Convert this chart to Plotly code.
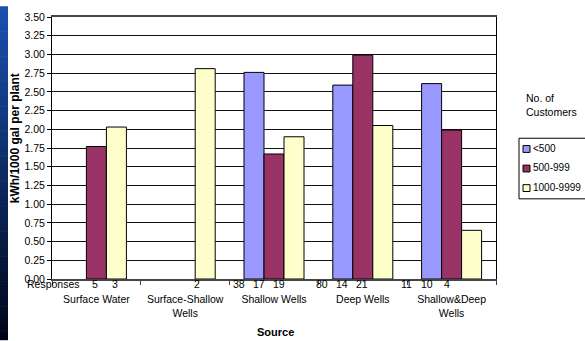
import plotly.graph_objects as go

# Categories and series
sources = ["Surface Water", "Surface-Shallow<br>Wells", "Shallow Wells",
           "Deep Wells", "Shallow&Deep<br>Wells"]
series_names = ["<500", "500-999", "1000-9999"]
series_colors = ["#9999FF", "#993366", "#FFFFCC"]

# kWh per 1000 gal per plant
kwh_lt500 = [None, None, 2.76, 2.59, 2.61]
kwh_500_999 = [1.77, None, 1.67, 2.99, 1.99]
kwh_1000_9999 = [2.03, 2.81, 1.90, 2.05, 0.65]

# survey responses behind each bar
resp_lt500 = [None, None, 38, 80, 11]
resp_500_999 = [5, None, 17, 14, 10]
resp_1000_9999 = [3, 2, 19, 21, 4]

y_ticks = [i * 0.25 for i in range(15)]

W, H = 585, 341
L, R, T, B = 52, 89, 11, 62
PW, PH = W - L - R, H - T - B
FONT = "Liberation Sans, Arial, sans-serif"
FS = 10.5


def px_x(p):
    return (p - L) / PW


def px_y(p):
    return (H - B - p) / PH


values = [kwh_lt500, kwh_500_999, kwh_1000_9999]
responses = [resp_lt500, resp_500_999, resp_1000_9999]

fig = go.Figure()
for name, vals, col in zip(series_names, values, series_colors):
    fig.add_trace(go.Bar(
        x=sources, y=vals, name=name,
        marker=dict(color=col, line=dict(color="black", width=1)),
        showlegend=False,
    ))

annotations = []
shapes = []

# response counts under the bars
slot = 20 / (PW / len(sources))
nudge = [-1, -8, -15, -21, -25]
for si, resp in enumerate(responses):
    for gi, n in enumerate(resp):
        if n is None:
            continue
        annotations.append(dict(
            x=gi + (si - 1) * slot, y=0, xref="x", yref="y",
            text=str(n), showarrow=False, xanchor="center", yanchor="middle",
            yshift=-5, xshift=nudge[gi],
            font=dict(family=FONT, size=FS, color="black")))
annotations.append(dict(
    x=px_x(82), y=0, xref="paper", yref="y", text="Responses",
    showarrow=False, xanchor="right", yanchor="middle", yshift=-5,
    font=dict(family=FONT, size=FS, color="black")))

# axis titles
annotations.append(dict(
    x=px_x(15), y=px_y(135), xref="paper", yref="paper",
    text="<b>kWh/1000 gal per plant</b>", textangle=-90, showarrow=False,
    xanchor="center", yanchor="middle",
    font=dict(family=FONT, size=12, color="black")))
annotations.append(dict(
    x=px_x(275), y=px_y(333), xref="paper", yref="paper",
    text="<b>Source</b>", showarrow=False, xanchor="center", yanchor="middle",
    font=dict(family=FONT, size=11, color="black")))

# chart title, mostly above the visible area
annotations.append(dict(
    x=px_x(303), y=px_y(-1), xref="paper", yref="paper",
    text="<b>Water Plants</b>", showarrow=False, xanchor="center",
    yanchor="bottom", font=dict(family=FONT, size=12, color="#aaaaaa")))

# legend: title, frame, swatches and labels
annotations.append(dict(
    x=px_x(524), y=px_y(101), xref="paper", yref="paper",
    text="No. of<br>Customers", showarrow=False, xanchor="left",
    yanchor="middle", align="left",
    font=dict(family=FONT, size=FS, color="black")))
shapes.append(dict(
    type="rect", xref="paper", yref="paper",
    x0=px_x(519), x1=px_x(600), y0=px_y(197), y1=px_y(135),
    line=dict(color="black", width=1), fillcolor="white"))
for i, (name, col) in enumerate(zip(series_names, series_colors)):
    cy = 146 + 20 * i
    shapes.append(dict(
        type="rect", xref="paper", yref="paper",
        x0=px_x(523), x1=px_x(530), y0=px_y(cy + 3.5), y1=px_y(cy - 3.5),
        line=dict(color="black", width=1), fillcolor=col))
    annotations.append(dict(
        x=px_x(531), y=px_y(cy - 1), xref="paper", yref="paper", text=name,
        showarrow=False, xanchor="left", yanchor="middle",
        font=dict(family=FONT, size=10, color="black")))

# dark blue slide edge on the left
bands = 40
top_c = (26, 80, 176)
bot_c = (0, 6, 24)
for k in range(bands):
    f = k / (bands - 1)
    c = tuple(int(round(top_c[j] + (bot_c[j] - top_c[j]) * f)) for j in range(3))
    y_top = H * k / bands
    y_bot = H * (k + 1) / bands + 0.6
    shapes.append(dict(
        type="rect", xref="paper", yref="paper", layer="above",
        x0=px_x(0), x1=px_x(8), y0=px_y(y_bot), y1=px_y(y_top),
        line=dict(width=0), fillcolor="rgb(%d,%d,%d)" % c))

fig.update_layout(
    width=W, height=H,
    margin=dict(l=L, r=R, t=T, b=B, pad=0),
    paper_bgcolor="white", plot_bgcolor="white",
    barmode="group", bargap=1 - 60 / (PW / len(sources)), bargroupgap=0,
    font=dict(family=FONT, size=FS, color="black"),
    annotations=annotations, shapes=shapes,
    xaxis=dict(
        type="category", showline=True, linecolor="#444444", linewidth=1.5,
        mirror=True, ticks="outside", tickson="boundaries", ticklen=4,
        tickcolor="#444444", ticklabelstandoff=10, showgrid=False,
        tickangle=0,
        tickfont=dict(family=FONT, size=FS, color="black"),
    ),
    yaxis=dict(
        range=[0, 3.5], tickvals=y_ticks, tickformat=".2f",
        showline=True, linecolor="black", linewidth=1, mirror=True,
        ticks="outside", ticklen=4, tickcolor="black",
        showgrid=True, gridcolor="#111111", gridwidth=1, zeroline=False,
        tickfont=dict(family=FONT, size=FS, color="black"),
    ),
)

fig.write_html("out.html")
